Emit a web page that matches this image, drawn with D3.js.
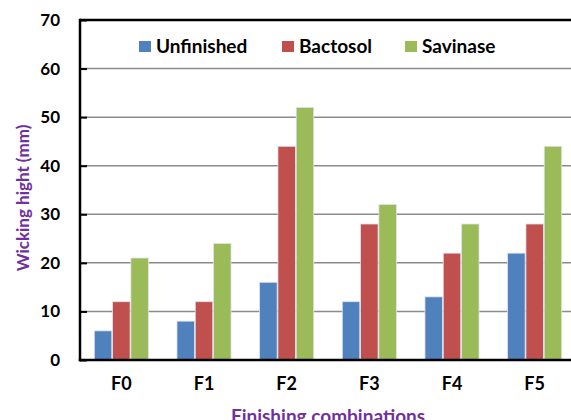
<!DOCTYPE html>
<html><head><meta charset="utf-8">
<script src="https://cdn.jsdelivr.net/npm/d3@7"></script>
<style>html,body{margin:0;padding:0;background:#fff;overflow:hidden}</style>
</head><body>
<svg id="c" width="571" height="420"></svg>
<script>
const categories = ["F0","F1","F2","F3","F4","F5"];
const seriesNames = ["Unfinished","Bactosol","Savinase"];
const unfinished = [6,8,16,12,13,22];
const bactosol = [12,12,44,28,22,28];
const savinase = [21,24,52,32,28,44];
const yTicks = [0,10,20,30,40,50,60,70];
const colors = ["#4F81BD","#C0504D","#9BBB59"];
const seriesValues = [unfinished, bactosol, savinase];

(function(){
const svg = d3.select("#c");
const font = "Lato, 'Open Sans', sans-serif";
const pL = 80, pR = 576, pT = 20, pB = 360;

const x = d3.scaleBand().domain(categories).range([pL, pR]).paddingInner(0).paddingOuter(0);
const xs = d3.scaleBand().domain(seriesNames).range([0, x.bandwidth()]).paddingInner(0).paddingOuter(0.76);
const y = d3.scaleLinear().domain([0,70]).range([pB, pT]);

// gridlines
svg.append("g").selectAll("line").data(yTicks.filter(t=>t>0 && t<70)).join("line")
  .attr("x1", pL).attr("x2", 571).attr("y1", d=>y(d)).attr("y2", d=>y(d))
  .attr("stroke", "#8c8c8c").attr("stroke-width", 1.5);

// bars
const groups = svg.append("g").selectAll("g").data(categories).join("g")
  .attr("transform", d=>`translate(${x(d)},0)`);
groups.selectAll("rect").data((c,i)=>seriesNames.map((s,j)=>({s, v: seriesValues[j][i], j})))
  .join("rect")
  .attr("x", d=>xs(d.s)+0.4).attr("width", xs.bandwidth()-0.8)
  .attr("y", d=>y(d.v)).attr("height", d=>pB - y(d.v))
  .attr("fill", d=>colors[d.j]).attr("stroke", "#dde3ee").attr("stroke-width", 0.8);

// top border
svg.append("line").attr("x1", pL).attr("x2", 571).attr("y1", pT).attr("y2", pT)
  .attr("stroke", "#000").attr("stroke-width", 2.5);

// y axis
const yAxis = d3.axisLeft(y).tickValues(yTicks).tickSize(-7).tickPadding(20);
const ga = svg.append("g").attr("transform", `translate(${pL},0)`).call(yAxis);
ga.select(".domain").remove();
ga.selectAll(".tick line").attr("stroke", "#000").attr("stroke-width", 2);
ga.selectAll("text").attr("font-family", font).attr("font-weight", "bold").attr("font-size", 17).attr("fill", "#000");
svg.append("line").attr("x1", pL).attr("x2", pL).attr("y1", pT-1.2).attr("y2", pB+1.2)
  .attr("stroke", "#000").attr("stroke-width", 2.5);

// x axis
const xAxis = d3.axisBottom(x).tickSize(0).tickPadding(17);
const gx = svg.append("g").attr("transform", `translate(0,${pB})`).call(xAxis);
gx.select(".domain").remove();
gx.selectAll("text").attr("font-family", font).attr("font-weight", "bold").attr("font-size", 18).attr("fill", "#000");
svg.append("line").attr("x1", pL-1.2).attr("x2", 571).attr("y1", pB).attr("y2", pB)
  .attr("stroke", "#000").attr("stroke-width", 2.5);

// axis titles
svg.append("text").attr("transform", "translate(29,198) rotate(-90)").attr("text-anchor","middle")
  .attr("font-family", font).attr("font-weight","bold").attr("font-size",17).attr("fill","#7030A0")
  .text("Wicking hight (mm)");
svg.append("text").attr("x", 328).attr("y", 423).attr("text-anchor","middle")
  .attr("font-family", font).attr("font-weight","bold").attr("font-size",19).attr("fill","#7030A0")
  .text("Finishing combinations");

// legend
const legX = [139, 282, 405];
const lg = svg.append("g").selectAll("g").data(seriesNames).join("g")
  .attr("transform", (d,i)=>`translate(${legX[i]},41)`);
lg.append("rect").attr("width", 12).attr("height", 11).attr("fill", (d,i)=>colors[i]);
lg.append("text").attr("x", 17).attr("y", 11.5).attr("font-family", font).attr("font-weight","bold")
  .attr("font-size", 19).attr("fill","#000").text(d=>d);
})();
</script>
</body></html>
